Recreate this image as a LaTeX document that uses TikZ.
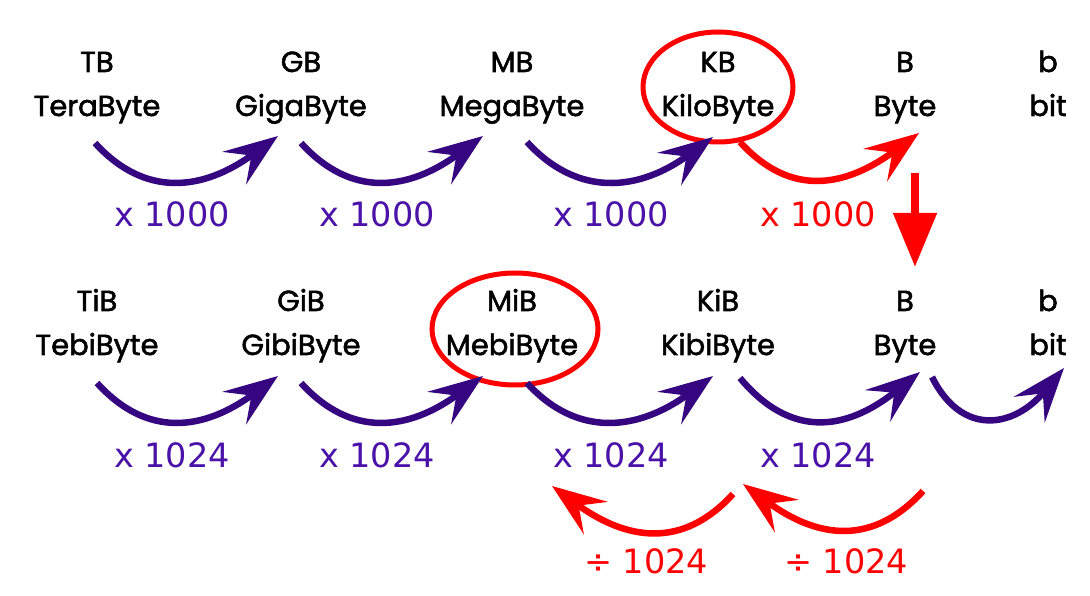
\documentclass[tikz,border=0pt]{standalone}
\usepackage{fontspec}
\setmainfont{Poppins}
\newfontfamily\lblfont[FakeBold=1.8]{Poppins}
\newfontfamily\numfont{DejaVu Sans}
\usetikzlibrary{arrows.meta}
\definecolor{arrpurple}{HTML}{35067F}
\definecolor{txtpurple}{HTML}{4A12A8}
\definecolor{myred}{HTML}{FF0000}
\tikzset{
  unitlbl/.style={anchor=base,inner sep=0pt,font=\lblfont\fontsize{29}{29}\selectfont,text=black},
  numlbl/.style={anchor=base,inner sep=0pt,font=\numfont\fontsize{33.5}{33.5}\selectfont},
  bighead/.style={-{Stealth[length=54pt,width=40pt,inset=21pt]}},
  purplearrow/.style={draw=arrpurple,line width=6.5pt,bighead},
  redarrow/.style={draw=myred,line width=6.5pt,bighead},
  redring/.style={draw=myred,line width=5pt},
}
\begin{document}
\begin{tikzpicture}[x=1pt,y=1pt]
\useasboundingbox (0,0) rectangle (1090,595);
% row 1 labels
\node[unitlbl] (TB) at (97,523) {TB};
\node[unitlbl] (TBn) at (97,479) {TeraByte};
\node[unitlbl] (GB) at (301,523) {GB};
\node[unitlbl] (GBn) at (301,479) {GigaByte};
\node[unitlbl] (MB) at (512,523) {MB};
\node[unitlbl] (MBn) at (512,479) {MegaByte};
\node[unitlbl] (KB) at (718,523) {KB};
\node[unitlbl] (KBn) at (718,479) {KiloByte};
\node[unitlbl] (B1) at (905,523) {B};
\node[unitlbl] (B1n) at (905,479) {Byte};
\node[unitlbl] (b1) at (1048,523) {b};
\node[unitlbl] (b1n) at (1048,479) {bit};
% row 2 labels
\node[unitlbl] (TiB) at (97,284) {TiB};
\node[unitlbl] (TiBn) at (97,240) {TebiByte};
\node[unitlbl] (GiB) at (301,284) {GiB};
\node[unitlbl] (GiBn) at (301,240) {GibiByte};
\node[unitlbl] (MiB) at (512,284) {MiB};
\node[unitlbl] (MiBn) at (512,240) {MebiByte};
\node[unitlbl] (KiB) at (718,284) {KiB};
\node[unitlbl] (KiBn) at (718,240) {KibiByte};
\node[unitlbl] (B2) at (905,284) {B};
\node[unitlbl] (B2n) at (905,240) {Byte};
\node[unitlbl] (b2) at (1048,284) {b};
\node[unitlbl] (b2n) at (1048,240) {bit};
% rings
\draw[redring] (718,508) ellipse (75 and 55);
\draw[redring] (515,266) ellipse (83 and 56);
% factor labels
\node[numlbl,text=txtpurple] (f1) at (172,368) {x 1000};
\node[numlbl,text=txtpurple] (f2) at (377,368) {x 1000};
\node[numlbl,text=txtpurple] (f3) at (611,368) {x 1000};
\node[numlbl,text=myred] (f4) at (818,368) {x 1000};
\node[numlbl,text=txtpurple] (g1) at (172,128) {x 1024};
\node[numlbl,text=txtpurple] (g2) at (377,128) {x 1024};
\node[numlbl,text=txtpurple] (g3) at (611,128) {x 1024};
\node[numlbl,text=txtpurple] (g4) at (818,128) {x 1024};
\node[numlbl,text=myred] (d1) at (646,22) {÷ 1024};
\node[numlbl,text=myred] (d2) at (846,22) {÷ 1024};
% arrow end coordinates
\coordinate (a1s) at (95,452);  \coordinate (a1e) at (278,459);
\coordinate (a2s) at (301,452); \coordinate (a2e) at (483,459);
\coordinate (a3s) at (527,453); \coordinate (a3e) at (713,458);
\coordinate (a4s) at (740,453); \coordinate (a4e) at (919,462);
\coordinate (dns) at (915,422); \coordinate (dne) at (915,328);
\coordinate (b1s) at (97,212);  \coordinate (b1e) at (278,219);
\coordinate (b2s) at (301,212); \coordinate (b2e) at (483,219);
\coordinate (b3s) at (527,212); \coordinate (b3e) at (713,219);
\coordinate (b4s) at (740,217); \coordinate (b4e) at (920,223);
\coordinate (b5s) at (932,218); \coordinate (b5e) at (1064,227);
\coordinate (r1s) at (733,101); \coordinate (r1e) at (552,109);
\coordinate (r2s) at (923,104); \coordinate (r2e) at (743,111);
% row 1 arrows
\draw[purplearrow] (a1s) .. controls +(50,-55) and +(-75,-55) .. (a1e);
\draw[purplearrow] (a2s) .. controls +(50,-55) and +(-75,-55) .. (a2e);
\draw[purplearrow] (a3s) .. controls +(50,-55) and +(-75,-55) .. (a3e);
\draw[redarrow] (a4s) .. controls +(50,-55) and +(-75,-55) .. (a4e);
\draw[draw=myred,line width=8pt,-{Triangle[length=54pt,width=42pt]}] (dns) -- (dne);
% row 2 arrows
\draw[purplearrow] (b1s) .. controls +(50,-55) and +(-75,-55) .. (b1e);
\draw[purplearrow] (b2s) .. controls +(50,-55) and +(-75,-55) .. (b2e);
\draw[purplearrow] (b3s) .. controls +(50,-55) and +(-75,-55) .. (b3e);
\draw[purplearrow] (b4s) .. controls +(50,-60) and +(-75,-60) .. (b4e);
\draw[purplearrow] (b5s) .. controls +(30,-60) and +(-50,-60) .. (b5e);
% row 3 arrows
\draw[redarrow] (r1s) .. controls +(-50,-55) and +(75,-55) .. (r1e);
\draw[redarrow] (r2s) .. controls +(-50,-55) and +(75,-55) .. (r2e);
\end{tikzpicture}
\end{document}
